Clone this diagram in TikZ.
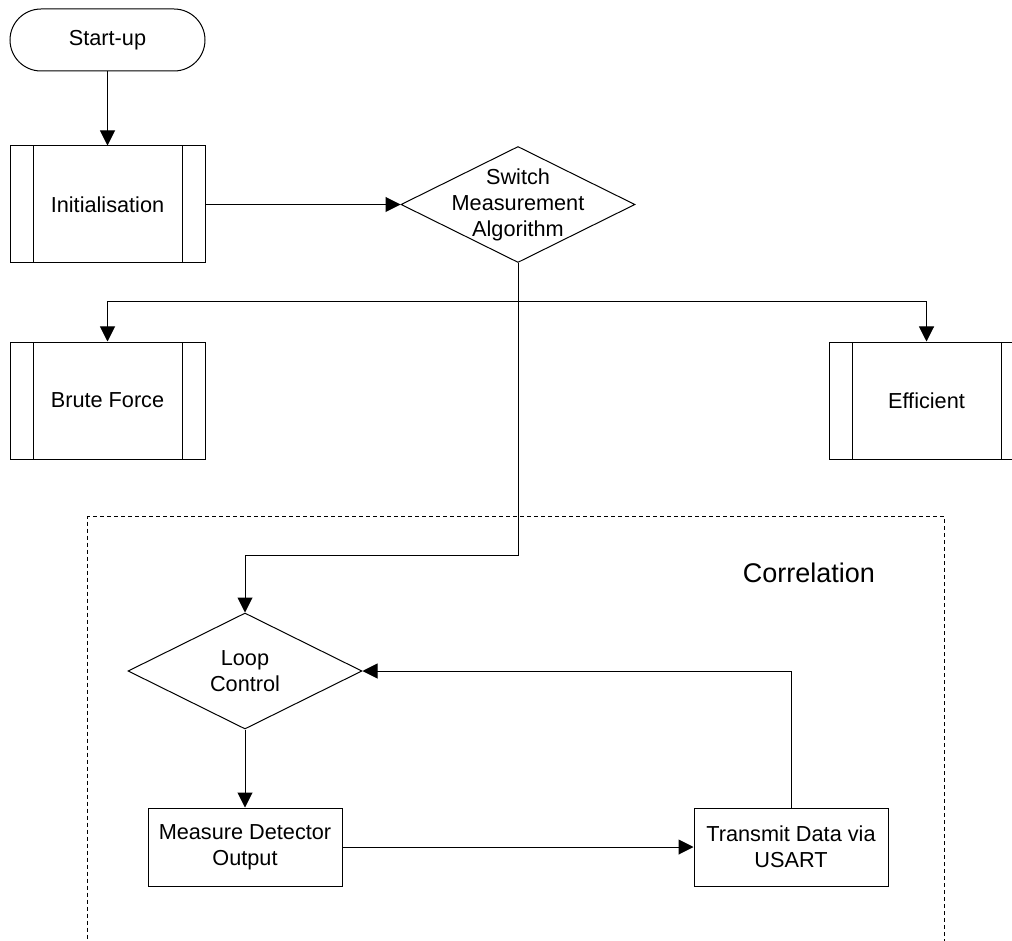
\documentclass[tikz,border=0pt]{standalone}
\usepackage{fontspec}
\setmainfont{Liberation Sans}
\usepackage{tikz}
\usetikzlibrary{positioning,arrows.meta,calc,shapes.geometric}

\begin{document}
\begin{tikzpicture}[
    x=0.5pt, y=-0.5pt,
    font=\fontsize{10.85}{13}\selectfont,
    terminal/.style={draw, line width=0.5pt, rounded corners=15.5pt, minimum width=97.5pt, minimum height=31pt},
    subproc/.style={draw, line width=0.5pt, minimum width=97.5pt, minimum height=58.5pt, align=center,
        path picture={
            \draw[line width=0.5pt] ([xshift=11.5pt]path picture bounding box.north west) -- ([xshift=11.5pt]path picture bounding box.south west);
            \draw[line width=0.5pt] ([xshift=-11.5pt]path picture bounding box.north east) -- ([xshift=-11.5pt]path picture bounding box.south east);}},
    decision/.style={draw, diamond, line width=0.5pt, inner sep=0pt, minimum width=117pt, minimum height=58pt},
    process/.style={draw, line width=0.5pt, minimum width=97pt, minimum height=39pt, align=center},
    group/.style={draw, dashed, dash pattern=on 2pt off 1.5pt, line width=0.5pt, inner sep=0pt, minimum width=428.5pt, minimum height=250pt},
    title/.style={font=\fontsize{13.5}{16}\selectfont},
    arr/.style={-{Triangle[length=7.5pt, width=7.5pt]}, line width=0.5pt}
]
    \useasboundingbox (0,0) rectangle (1012,941);
    \clip (0,0) rectangle (1012,941);

    % Correlation group
    \node[group, anchor=north west] (corr_box) at (87,516) {};
    \node[title] (corr_label) at ([xshift=-68pt, yshift=-28.5pt]corr_box.north east) {Correlation};

    % Top flow
    \node[terminal] (start) at (107.5,40) {Start-up};
    \node[subproc, below=37pt of start] (init) {Initialisation};
    \node[decision, right=97.5pt of init, label={[align=center]center:{Switch\\Measurement\\Algorithm}}] (switch) {};

    % Algorithms
    \node[subproc, below=39pt of init] (brute) {Brute Force};
    \node[subproc, right=311.5pt of brute] (efficient) {Efficient};

    % Correlation loop
    \node[decision, label={[align=center]center:{Loop\\Control}}] (loop) at (245,671) {};
    \node[process, below=39pt of loop] (measure) {Measure Detector\\Output};
    \node[process, right=175.5pt of measure] (transmit) {Transmit Data via\\USART};

    \coordinate (split) at ($(switch.south)+(0,-19.5pt)$);
    \coordinate (bend) at ($(switch.south)+(0,-146pt)$);

    % Connections
    \draw[arr] (start) -- (init);
    \draw[arr] (init) -- (switch);
    \draw[arr] (split) -| (brute.north);
    \draw[arr] (split) -| (efficient.north);
    \draw[arr] (switch.south) -- (bend) -| (loop.north);
    \draw[arr] (loop) -- (measure);
    \draw[arr] (measure) -- (transmit);
    \draw[arr] (transmit.north) |- (loop.east);
\end{tikzpicture}
\end{document}
